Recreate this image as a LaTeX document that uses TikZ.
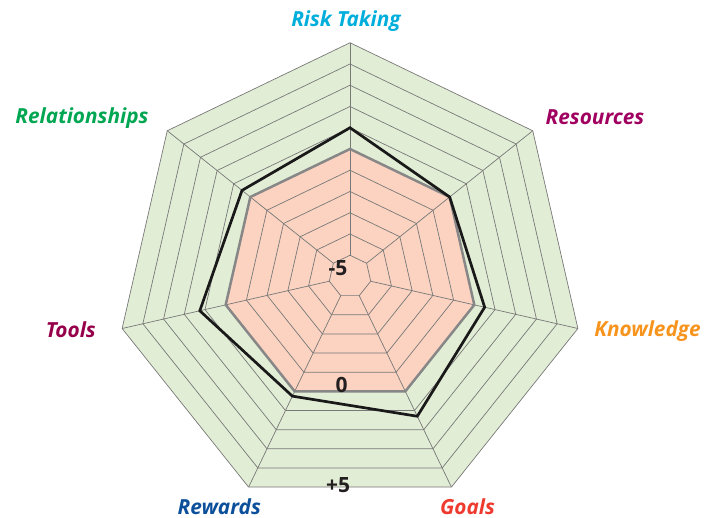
\documentclass[tikz,border=0pt]{standalone}
\usepackage{fontspec}
\setmainfont{Open Sans}
\definecolor{gfill}{RGB}{226,237,213}
\definecolor{pfill}{RGB}{251,211,192}
\definecolor{gridc}{RGB}{120,120,120}
\definecolor{zeroc}{RGB}{135,135,135}
\definecolor{numc}{RGB}{35,31,32}
\definecolor{cRisk}{RGB}{0,174,219}
\definecolor{cRes}{RGB}{160,0,95}
\definecolor{cKnow}{RGB}{247,148,29}
\definecolor{cGoals}{RGB}{238,58,47}
\definecolor{cRew}{RGB}{12,80,155}
\definecolor{cTools}{RGB}{150,0,75}
\definecolor{cRel}{RGB}{0,166,81}
\tikzset{
  gridline/.style={draw=gridc, line width=0.7pt},
  zeroring/.style={draw=zeroc, line width=2.5pt, line join=miter},
  dataline/.style={draw=black!90, line width=2.7pt, line join=miter},
  axlabel/.style={font=\fontsize{20.8}{22}\selectfont\bfseries\itshape, anchor=base, inner sep=0pt},
  numlabel/.style={font=\fontsize{21}{22}\selectfont\bfseries, text=numc, anchor=base, inner sep=0pt}
}
\begin{document}
\begin{tikzpicture}[x=1pt,y=1pt]
\useasboundingbox (0,0) rectangle (718,-518);
\def\s{21.25}
\begin{scope}[shift={(350,-276.5)}]
  % outer green fill (+5 ring)
  \fill[gfill] (90:{11*\s}) \foreach \k in {1,...,6}{ -- ({90-\k*360/7}:{11*\s})} -- cycle;
  % pink fill (0 ring)
  \fill[pfill] (90:{6*\s}) \foreach \k in {1,...,6}{ -- ({90-\k*360/7}:{6*\s})} -- cycle;
  % rings -5 ... +5
  \foreach \i in {1,...,11}{
    \draw[gridline] (90:{\i*\s}) \foreach \k in {1,...,6}{ -- ({90-\k*360/7}:{\i*\s})} -- cycle;
  }
  % spokes
  \foreach \k in {0,...,6}{
    \draw[gridline] ({90-\k*360/7}:{\s}) -- ({90-\k*360/7}:{11*\s});
  }
  % zero ring
  \draw[zeroring] (90:{6*\s}) \foreach \k in {1,...,6}{ -- ({90-\k*360/7}:{6*\s})} -- cycle;
  % data
  \draw[dataline] (90:{7*\s})
     -- ({90-360/7}:{6*\s})
     -- ({90-2*360/7}:{6.5*\s})
     -- ({90-3*360/7}:{7.3*\s})
     -- ({90-4*360/7}:{6.25*\s})
     -- ({90-5*360/7}:{7.25*\s})
     -- ({90-6*360/7}:{6.5*\s}) -- cycle;
\end{scope}
% axis labels
\node[axlabel, text=cRisk]  (risk)  at (346,-26.5)  {Risk Taking};
\node[axlabel, text=cRes]   (res)   at (595,-124.3) {Resources};
\node[axlabel, text=cKnow]  (know)  at (647.5,-336.7) {Knowledge};
\node[axlabel, text=cGoals] (goals) at (467.5,-514.3) {Goals};
\node[axlabel, text=cRew]   (rew)   at (219.3,-514.3) {Rewards};
\node[axlabel, text=cTools] (tools) at (70.8,-337.7) {Tools};
\node[axlabel, text=cRel]   (rel)   at (82,-123.5)  {Relationships};
% scale labels
\node[numlabel] (mfive) at (338,-276) {-5};
\node[numlabel] (zero)  at (341.7,-392.5) {0};
\node[numlabel] (pfive) at (338,-493) {+5};
\end{tikzpicture}
\end{document}
